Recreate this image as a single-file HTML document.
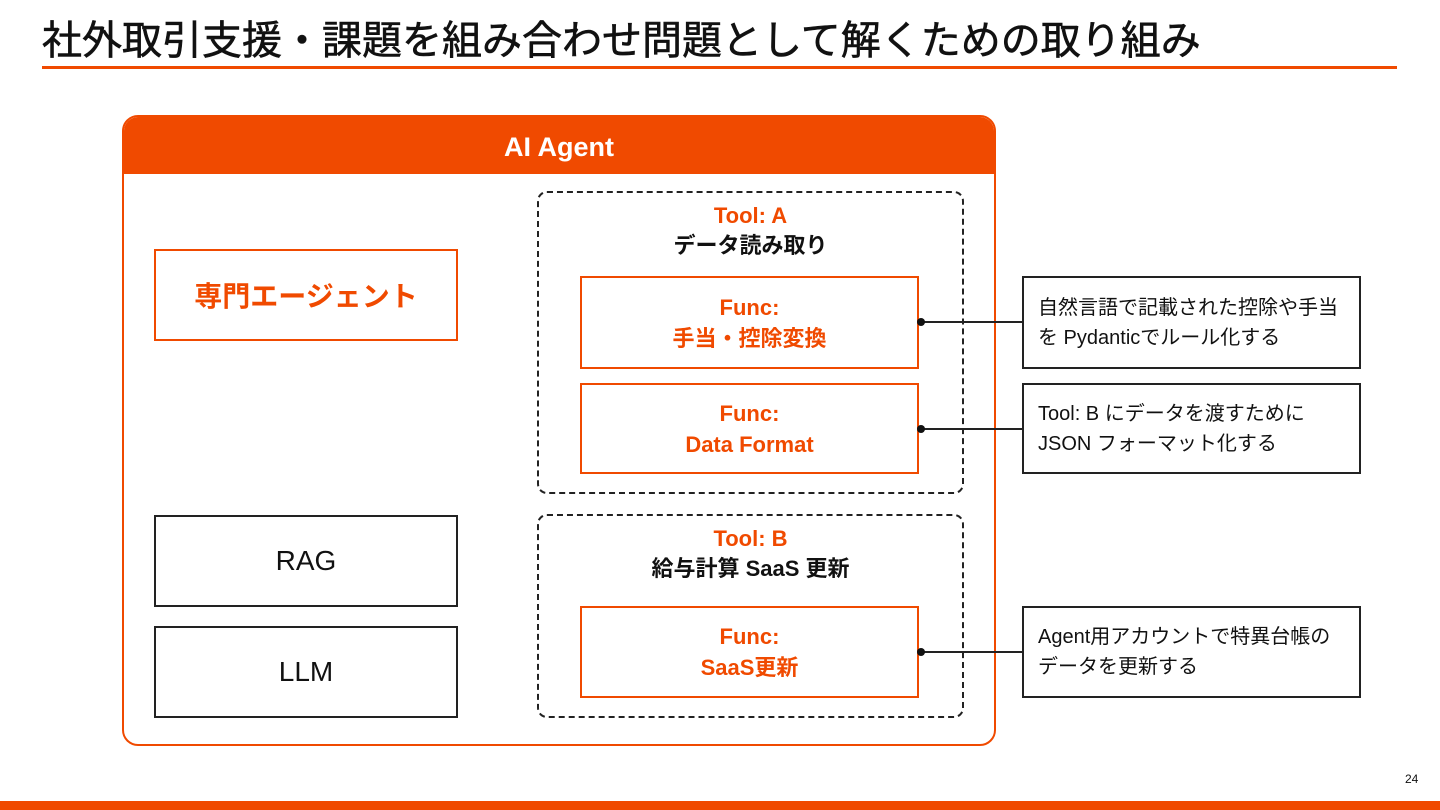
<!DOCTYPE html>
<html><head><meta charset="utf-8"><style>
*{margin:0;padding:0;box-sizing:border-box}
body{width:1440px;height:810px;position:relative;background:#fff;font-family:"Liberation Sans","Noto Sans CJK JP",sans-serif;overflow:hidden;color:#111}
.a{position:absolute}
.box{position:absolute;display:flex;flex-direction:column;align-items:center;justify-content:center;text-align:center}
.o{border:2px solid #f04a00;color:#f04a00;font-weight:bold}
.k{border:2px solid #222}
.note{position:absolute;border:2px solid #222;font-size:20px;line-height:30px;padding:0 0 0 14px;display:flex;flex-direction:column;justify-content:center}
.dash{position:absolute;border:2px dashed #222;border-radius:10px}
.line{position:absolute;height:2px;background:#222}
.dot{position:absolute;width:8px;height:8px;border-radius:50%;background:#111}
</style></head><body>
<div class="a" style="left:42px;top:14px;font-size:40px;font-weight:normal;-webkit-text-stroke:0.6px #111;color:#111;white-space:nowrap;line-height:54px">社外取引支援・課題を組み合わせ問題として解くための取り組み</div>
<div class="a" style="left:42px;top:66px;width:1355px;height:3px;background:#f04a00"></div>

<div class="a" style="left:122px;top:115px;width:874px;height:631px;border:2px solid #f04a00;border-radius:16px;overflow:hidden">
 <div style="height:57px;background:#f04a00;color:#fff;font-size:27px;font-weight:bold;text-align:center;line-height:60px">AI Agent</div>
</div>

<div class="box o" style="left:154px;top:249px;width:304px;height:92px;font-size:28px">専門エージェント</div>
<div class="box k" style="left:154px;top:515px;width:304px;height:92px;font-size:28px">RAG</div>
<div class="box k" style="left:154px;top:626px;width:304px;height:92px;font-size:28px">LLM</div>

<div class="dash" style="left:537px;top:191px;width:427px;height:303px"></div>
<div class="a" style="left:537px;top:201px;width:427px;text-align:center;font-size:22px;font-weight:bold;line-height:30px"><span style="color:#f04a00">Tool: A</span><br>データ読み取り</div>
<div class="box o" style="left:580px;top:276px;width:339px;height:93px;font-size:22px;line-height:31px">Func:<br>手当・控除変換</div>
<div class="box o" style="left:580px;top:383px;width:339px;height:91px;font-size:22px;line-height:31px">Func:<br>Data Format</div>

<div class="dash" style="left:537px;top:514px;width:427px;height:204px"></div>
<div class="a" style="left:537px;top:524px;width:427px;text-align:center;font-size:22px;font-weight:bold;line-height:30px"><span style="color:#f04a00">Tool: B</span><br>給与計算 SaaS 更新</div>
<div class="box o" style="left:580px;top:606px;width:339px;height:92px;font-size:22px;line-height:31px">Func:<br>SaaS更新</div>

<div class="line" style="left:921px;top:321px;width:102px"></div><div class="dot" style="left:917px;top:318px"></div>
<div class="line" style="left:921px;top:428px;width:102px"></div><div class="dot" style="left:917px;top:425px"></div>
<div class="line" style="left:921px;top:651px;width:102px"></div><div class="dot" style="left:917px;top:648px"></div>

<div class="note" style="left:1022px;top:276px;width:339px;height:93px"><div>自然言語で記載された控除や手当</div><div>を Pydanticでルール化する</div></div>
<div class="note" style="left:1022px;top:383px;width:339px;height:91px"><div>Tool: B にデータを渡すために</div><div>JSON フォーマット化する</div></div>
<div class="note" style="left:1022px;top:606px;width:339px;height:92px"><div>Agent用アカウントで特異台帳の</div><div>データを更新する</div></div>

<div class="a" style="left:1405px;top:772px;font-size:12px">24</div>
<div class="a" style="left:0;top:801px;width:1440px;height:9px;background:#f04a00"></div>
</body></html>
